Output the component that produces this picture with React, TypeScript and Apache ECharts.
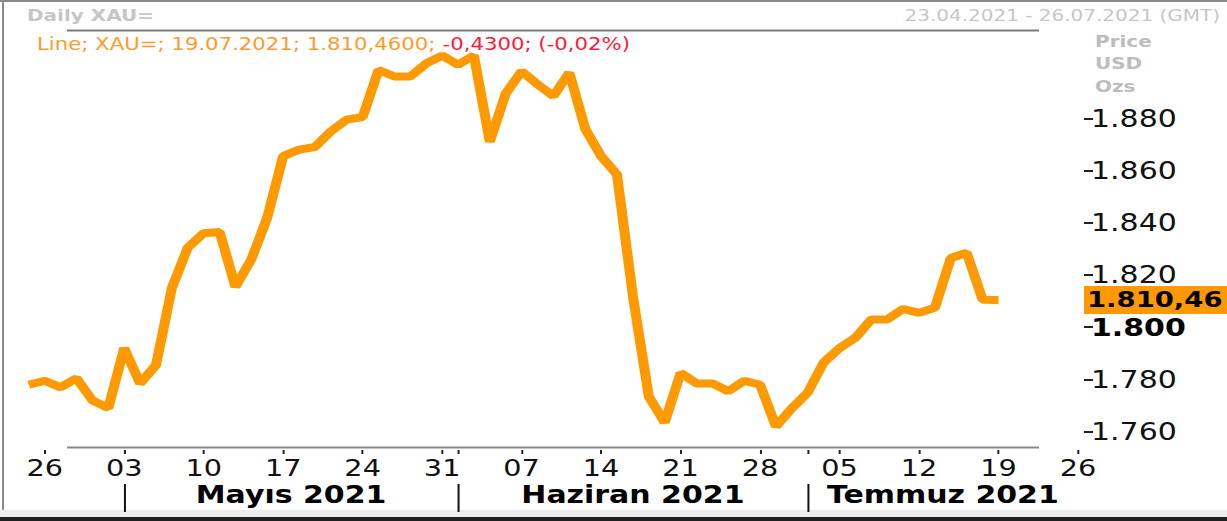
import React, { useEffect, useRef } from "react";
import * as echarts from "echarts";

// ---- data ----
const dates = [
  "23.04", "26.04", "27.04", "28.04", "29.04", "30.04",
  "03.05", "04.05", "05.05", "06.05", "07.05", "10.05", "11.05", "12.05", "13.05", "14.05",
  "17.05", "18.05", "19.05", "20.05", "21.05", "24.05", "25.05", "26.05", "27.05", "28.05", "31.05",
  "01.06", "02.06", "03.06", "04.06", "07.06", "08.06", "09.06", "10.06", "11.06", "14.06", "15.06",
  "16.06", "17.06", "18.06", "21.06", "22.06", "23.06", "24.06", "25.06", "28.06", "29.06", "30.06",
  "01.07", "02.07", "05.07", "06.07", "07.07", "08.07", "09.07", "12.07", "13.07", "14.07", "15.07",
  "16.07", "19.07",
];
const prices = [
  1778, 1779.5, 1777, 1780.5, 1772, 1769,
  1792, 1778.5, 1785.5, 1815, 1830.5, 1836, 1836.5, 1815.5, 1826, 1842,
  1865.5, 1868, 1869, 1875, 1879.5, 1880.5, 1898.5, 1896, 1896, 1901, 1904,
  1900.5, 1904, 1871, 1889.5, 1898, 1893, 1888.5, 1897.5, 1876, 1865.5, 1858.5,
  1812, 1773.5, 1763.5, 1782.5, 1778.5, 1778.5, 1775.5, 1779.5, 1778, 1762, 1769,
  1775, 1786.5, 1792, 1796, 1803, 1803, 1807, 1805.5, 1807.5, 1826.5, 1828.5,
  1810.5, 1810.46,
];
const weekLabels = ["26", "03", "10", "17", "24", "31", "07", "14", "21", "28", "05", "12", "19", "26"];
const monthLabels = ["Mayıs 2021", "Haziran 2021", "Temmuz 2021"];
const yTicks = [1760, 1780, 1800, 1820, 1840, 1860, 1880];
const lastValue = 1810.46;
const lastLabel = "1.810,46";
const title = "Daily XAU=";
const range = "23.04.2021 - 26.07.2021 (GMT)";
const unitLines = ["Price", "USD", "Ozs"];
const legendMain = "Line; XAU=; 19.07.2021; 1.810,4600; ";
const legendChange = "-0,4300; (-0,02%)";

// trading-day index helpers
const weekIdx = weekLabels.map((_, k) => 1 + 5 * k);
const axisEnd = weekIdx[weekIdx.length - 1];
const monthStarts = dates
  .map((d, i) => (i > 0 && d.slice(3) !== dates[i - 1].slice(3) ? i : -1))
  .filter((i) => i >= 0);
const monthCenters = monthStarts.map((s, k) =>
  (s + (k + 1 < monthStarts.length ? monthStarts[k + 1] : axisEnd)) / 2
);

const W0 = 982;
const S = 1227 / W0;
const X = (px: number) => px / S;
const FONT = "DejaVu Sans";

const fmtY = (v: number) => {
  const r = Math.round(v);
  return Math.floor(r / 1000) + "." + String(r % 1000).padStart(3, "0");
};

export default function App() {
  const ref = useRef<HTMLDivElement>(null);
  useEffect(() => {
    if (!ref.current) return;
    const chart = echarts.init(ref.current, null, { renderer: "svg", width: W0, height: 521 });
    const yMax = 1913.8;
    const yMin = 1754.15;
    chart.setOption({
      animation: false,
      backgroundColor: "#ffffff",
      grid: {
        left: X(28.8),
        top: 30,
        width: X(1078 - 28.8),
        height: 417,
        containLabel: false,
        outerBoundsMode: "none",
      },
      xAxis: [
        {
          type: "value",
          min: 0,
          max: axisEnd,
          position: "bottom",
          offset: 3,
          axisLine: { show: false, onZero: false },
          splitLine: { show: false },
          axisTick: {
            show: true,
            customValues: [...weekIdx, ...monthStarts],
            length: 4,
            lineStyle: { color: "#222", width: 1.6 },
          },
          axisLabel: {
            customValues: weekIdx,
            margin: 7,
            fontSize: 23,
            fontFamily: FONT,
            color: "#111",
            formatter: (v: number) => {
              const k = weekIdx.indexOf(Math.round(v));
              return k >= 0 ? weekLabels[k] : "";
            },
          },
        },
        {
          type: "value",
          min: 0,
          max: axisEnd,
          position: "bottom",
          offset: 37,
          axisLine: { show: false, onZero: false },
          splitLine: { show: false },
          axisTick: {
            show: true,
            customValues: monthStarts,
            length: 28,
            lineStyle: { color: "#111", width: 1.6 },
          },
          axisLabel: {
            customValues: monthCenters,
            margin: -1,
            fontSize: 24,
            fontWeight: "bold",
            fontFamily: FONT,
            color: "#000",
            formatter: (v: number) => {
              const k = monthCenters.findIndex((c) => Math.abs(c - v) < 0.01);
              return k >= 0 ? monthLabels[k] : "";
            },
          },
        },
      ],
      yAxis: [
        {
          type: "value",
          min: yMin,
          max: yMax,
          position: "right",
          offset: X(6),
          axisLine: { show: false, onZero: false },
          splitLine: { show: false },
          axisTick: {
            show: true,
            customValues: yTicks,
            length: X(9),
            lineStyle: { color: "#222", width: 2 },
          },
          axisLabel: {
            customValues: yTicks,
            margin: X(7),
            fontSize: 24,
            fontFamily: FONT,
            color: "#111",
            formatter: (v: number) => (Math.round(v) === 1800 ? "{b|" + fmtY(v) + "}" : fmtY(v)),
            rich: {
              b: { fontSize: 24, fontFamily: FONT, fontWeight: "bold", color: "#000" },
            },
          },
        },
        {
          type: "value",
          min: yMin,
          max: yMax,
          position: "right",
          offset: X(6),
          axisLine: { show: false, onZero: false },
          splitLine: { show: false },
          axisTick: { show: false },
          axisLabel: {
            customValues: [lastValue],
            margin: 0,
            fontSize: 22,
            fontWeight: "bold",
            fontFamily: FONT,
            color: "#000",
            backgroundColor: "#ff9900",
            lineHeight: 28,
            padding: [0, 40, 0, X(3)],
            formatter: () => lastLabel,
          },
        },
      ],
      series: [
        {
          type: "line",
          xAxisIndex: 0,
          yAxisIndex: 0,
          data: prices.map((p, i) => [i, p]),
          showSymbol: false,
          symbol: "none",
          silent: true,
          lineStyle: { color: "#ff9900", width: 8 },
        },
      ],
      graphic: [
        { type: "rect", shape: { x: 0, y: 0, width: W0, height: 2 }, style: { fill: "#8a8a8a" } },
        { type: "rect", shape: { x: X(2), y: 0, width: X(2), height: 510 }, style: { fill: "#8a8a8a" } },
        { type: "rect", shape: { x: 0, y: 510, width: W0, height: 7 }, style: { fill: "#ececec" } },
        { type: "rect", shape: { x: 0, y: 517, width: W0, height: 4 }, style: { fill: "#1e1e1e" } },
        {
          type: "line",
          shape: { x1: X(67), y1: 30.5, x2: X(1039), y2: 30.5 },
          style: { stroke: "#7a7a7a", lineWidth: 2 },
        },
        {
          type: "line",
          shape: { x1: X(67), y1: 447.5, x2: X(1039), y2: 447.5 },
          style: { stroke: "#8a8a8a", lineWidth: 2 },
        },
        {
          type: "text",
          x: X(27),
          y: 15,
          style: {
            text: title,
            fontSize: 16,
            fontWeight: "bold",
            fontFamily: FONT,
            fill: "#c6c6c6",
            verticalAlign: "middle",
          },
        },
        {
          type: "text",
          x: X(1220),
          y: 15,
          style: {
            text: range,
            fontSize: 16,
            fontFamily: FONT,
            fill: "#c6c6c6",
            align: "right",
            verticalAlign: "middle",
          },
        },
        ...unitLines.map((t, k) => ({
          type: "text",
          x: X(1095),
          y: 41 + k * 22.5,
          style: {
            text: t,
            fontSize: 16,
            fontWeight: "bold",
            fontFamily: FONT,
            fill: "#bdbdbd",
            verticalAlign: "middle",
          },
        })),
        {
          type: "text",
          x: X(37),
          y: 44,
          style: {
            text: "{o|" + legendMain + "}{r|" + legendChange + "}",
            fontSize: 17,
            fontFamily: FONT,
            verticalAlign: "middle",
            rich: {
              o: { fill: "#ff9a2e", fontSize: 17, fontFamily: FONT },
              r: { fill: "#ff1a3c", fontSize: 17, fontFamily: FONT },
            },
          },
        },
      ],
    });
    return () => chart.dispose();
  }, []);

  return (
    <div
      style={{
        position: "absolute",
        left: 0,
        top: 0,
        width: 1227,
        height: 521,
        overflow: "hidden",
        background: "#fff",
      }}
    >
      <div
        ref={ref}
        style={{
          width: W0,
          height: 521,
          transform: `scaleX(${S})`,
          transformOrigin: "0 0",
        }}
      />
    </div>
  );
}
